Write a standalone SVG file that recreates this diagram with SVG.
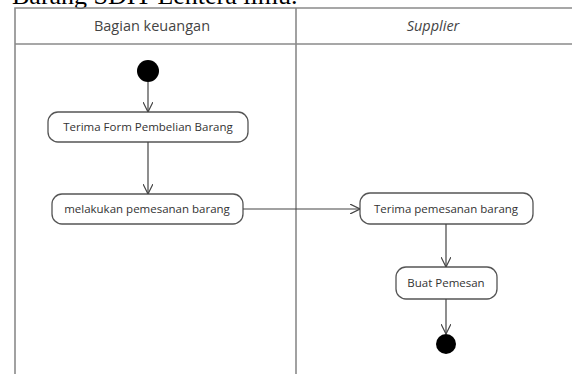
<svg xmlns="http://www.w3.org/2000/svg" width="572" height="374" viewBox="0 0 572 374">
<style>
.frame{stroke:#8a8a8a;stroke-width:1.6;fill:none}
.act rect{fill:#fff;stroke:#555;stroke-width:1.3}
.act text{font-family:"Open Sans","Liberation Sans",sans-serif;font-size:11.5px;fill:#333;text-anchor:middle}
.hdr{font-family:"Open Sans","Liberation Sans",sans-serif;font-size:14.5px;fill:#444;text-anchor:middle}
.conn path{stroke:#444;stroke-width:1.2;fill:none}
</style>
<defs>
<marker id="open" viewBox="0 0 10 10" refX="10" refY="5" markerWidth="10" markerHeight="10" markerUnits="userSpaceOnUse" orient="auto">
<path d="M0,0 L10,5 L0,10" fill="none" stroke="#444" stroke-width="1.2"/>
</marker>
</defs>
<rect width="572" height="374" fill="#fff"/>
<text x="12" y="4" font-family="Liberation Serif,serif" font-size="26" fill="#000">Barang SDIT Lentera ilmu.</text>
<g id="swimlanes">
<path class="frame" d="M15,374 V8 H572"/>
<path class="frame" d="M15,44 H572"/>
<path class="frame" d="M296,8 V374"/>
<text class="hdr" x="152" y="31">Bagian keuangan</text>
<text class="hdr" x="433" y="31" font-style="italic">Supplier</text>
</g>
<g id="start"><circle cx="148" cy="71" r="11" fill="#000"/></g>
<g id="a1" class="act"><rect x="48" y="112" width="200" height="30" rx="10"/><text x="148" y="131">Terima Form Pembelian Barang</text></g>
<g id="a2" class="act"><rect x="52" y="194" width="191" height="30" rx="10"/><text x="147" y="213">melakukan pemesanan barang</text></g>
<g id="a3" class="act"><rect x="360" y="193" width="173" height="31" rx="10"/><text x="446" y="213">Terima pemesanan barang</text></g>
<g id="a4" class="act"><rect x="396" y="267" width="101" height="32" rx="10"/><text x="446" y="287">Buat Pemesan</text></g>
<g id="end"><circle cx="446" cy="344" r="10" fill="#000"/></g>
<g id="connectors" class="conn">
<path d="M148,82 V112" marker-end="url(#open)"/>
<path d="M148,142 V194" marker-end="url(#open)"/>
<path d="M243,209 H360" marker-end="url(#open)"/>
<path d="M446,224 V267" marker-end="url(#open)"/>
<path d="M446,299 V334" marker-end="url(#open)"/>
</g>
</svg>
